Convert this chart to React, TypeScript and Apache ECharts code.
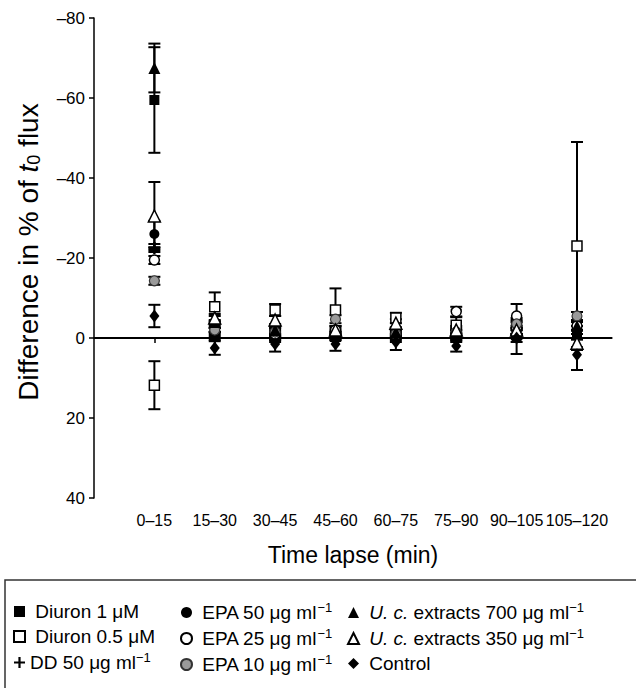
import React, { useEffect, useRef } from "react";
import * as echarts from "echarts";

const categories = ["0–15", "15–30", "30–45", "45–60", "60–75", "75–90", "90–105", "105–120"];
const yTicks = [-80, -60, -40, -20, 0, 20, 40];

const diuron1 = [-59.5, -3, -1, -1.5, -0.5, -1, 0, -1.5];
const diuron1Err = [13.2, 1.5, 1.5, 1, 1, 1, 4, 1.5];
const diuron05 = [11.8, -7.8, -7, -7, -5, -3.2, -3, -23];
const diuron05Err = [6, 3.6, 1.5, 5.4, 1.3, 2, 2, 26];
const dd50 = [-22.5, -1.5, -0.5, -1, 0, -0.5, -1, -2];
const dd50Err = [1, 1, 1, 1, 1, 1, 1, 1];
const epa50 = [-26, -1, 0, -0.5, -1, 0, -1.5, -1];
const epa50Err = [3.3, 1.5, 1, 1, 1, 1, 1, 1];
const epa25 = [-19.5, -2.5, -1, -2, -1.5, -6.6, -5.5, -3];
const epa25Err = [1, 1, 1, 1, 1, 1.2, 3, 1];
const epa10 = [-14.3, -2, -1.5, -4.7, -1, -1.5, -3.5, -5.5];
const epa10Err = [1, 1, 1, 1, 1, 1, 1, 1];
const uc700 = [-67.5, -4, -2, -0.5, -1.5, -1, -1, -3];
const uc700Err = [6.1, 1.5, 1, 1, 1, 1, 1, 1];
const uc350 = [-30.5, -5, -4.5, -2, -3.7, -2, -2, 1.3];
const uc350Err = [8.5, 1, 1, 1, 1, 1, 1, 1];
const control = [-5.5, 2.5, 1.5, 1.5, 1, 2, 0, 4.2];
const controlErr = [2.8, 1.7, 1.9, 1.7, 2, 1.4, 1, 3.8];

const PLUS = "path://M4,0H6V4H10V6H6V10H4V6H0V4H4Z";

type Def = {
  name: string;
  label: string;
  values: number[];
  errs: number[];
  symbol: string;
  size: number | number[];
  fill: string;
  border: string;
  borderWidth: number;
};

const defs: Def[] = [
  { name: "Diuron 1 μM", label: " Diuron 1 μM", values: diuron1, errs: diuron1Err, symbol: "rect", size: 10, fill: "#000", border: "#000", borderWidth: 0 },
  { name: "Diuron 0.5 μM", label: " Diuron 0.5 μM", values: diuron05, errs: diuron05Err, symbol: "rect", size: 10, fill: "#fff", border: "#000", borderWidth: 1.5 },
  { name: "DD 50 μg ml-1", label: "DD 50 μg ml{sup|−1}", values: dd50, errs: dd50Err, symbol: PLUS, size: 12, fill: "#000", border: "#000", borderWidth: 0 },
  { name: "EPA 50 μg ml-1", label: " EPA 50 μg ml{sup|−1}", values: epa50, errs: epa50Err, symbol: "circle", size: 10, fill: "#000", border: "#000", borderWidth: 0 },
  { name: "EPA 25 μg ml-1", label: " EPA 25 μg ml{sup|−1}", values: epa25, errs: epa25Err, symbol: "circle", size: 10, fill: "#fff", border: "#000", borderWidth: 1.5 },
  { name: "EPA 10 μg ml-1", label: " EPA 10 μg ml{sup|−1}", values: epa10, errs: epa10Err, symbol: "circle", size: 10, fill: "#9a9a9a", border: "#333", borderWidth: 1.2 },
  { name: "U. c. extracts 700 μg ml-1", label: " {it|U. c.} extracts 700 μg ml{sup|−1}", values: uc700, errs: uc700Err, symbol: "triangle", size: 12, fill: "#000", border: "#000", borderWidth: 0 },
  { name: "U. c. extracts 350 μg ml-1", label: " {it|U. c.} extracts 350 μg ml{sup|−1}", values: uc350, errs: uc350Err, symbol: "triangle", size: 12, fill: "#fff", border: "#000", borderWidth: 1.5 },
  { name: "Control", label: " Control", values: control, errs: controlErr, symbol: "diamond", size: [10, 13], fill: "#000", border: "#000", borderWidth: 0 },
];

const FONT = "Liberation Sans";

export default function App() {
  const ref = useRef<HTMLDivElement>(null);
  useEffect(() => {
    if (!ref.current) return;
    const chart = echarts.init(ref.current, undefined, { renderer: "svg" });

    const errSeries = defs.map((d) => ({
      type: "custom",
      name: d.name + "_err",
      z: 2,
      silent: true,
      data: d.values.map((v, i) => [i + 1, v, v - d.errs[i], v + d.errs[i]]),
      renderItem: (params: any, api: any) => {
        const x = api.value(0);
        const lo = api.coord([x, api.value(2)]);
        const hi = api.coord([x, api.value(3)]);
        const style = { stroke: "#000", lineWidth: 2 };
        const cw = 6;
        return {
          type: "group",
          children: [
            { type: "line", shape: { x1: lo[0], y1: lo[1], x2: hi[0], y2: hi[1] }, style },
            { type: "line", shape: { x1: lo[0] - cw, y1: lo[1], x2: lo[0] + cw, y2: lo[1] }, style },
            { type: "line", shape: { x1: hi[0] - cw, y1: hi[1], x2: hi[0] + cw, y2: hi[1] }, style },
          ],
        };
      },
    }));

    const pointSeries = defs.map((d) => ({
      type: "scatter",
      name: d.name,
      z: 5,
      symbol: d.symbol,
      symbolSize: d.size,
      itemStyle: { color: d.fill, borderColor: d.border, borderWidth: d.borderWidth, opacity: 1 },
      data: d.values.map((v, i) => [i + 1, v]),
    }));

    const labelMap: Record<string, string> = {};
    defs.forEach((d) => (labelMap[d.name] = d.label));

    const legendRich = {
      sup: { fontSize: 13, fontFamily: FONT, color: "#000", padding: [0, 0, 10, 0] },
      it: { fontSize: 19, fontFamily: FONT, fontStyle: "italic", color: "#000" },
    };

    const mkLegend = (names: string[], left: number) => ({
      data: names,
      orient: "vertical",
      left,
      top: 596,
      itemWidth: 11,
      itemHeight: 11,
      itemGap: 4,
      selectedMode: false,
      formatter: (n: string) => labelMap[n],
      textStyle: { fontSize: 19, fontFamily: FONT, color: "#000", lineHeight: 21, rich: legendRich },
    });

    const option: any = {
      animation: false,
      backgroundColor: "#fff",
      grid: { left: 94, right: 24, top: 18, bottom: 190, containLabel: false },
      xAxis: {
        type: "value",
        min: 0,
        max: 8.58,
        interval: 1,
        splitLine: { show: false },
        axisLine: { show: true, lineStyle: { color: "#000", width: 1.5 } },
        axisTick: { show: true, length: 5, lineStyle: { color: "#000", width: 1.5 }, customValues: [1, 2, 3, 4, 5, 6, 7, 8] },
        axisLabel: {
          customValues: [1, 2, 3, 4, 5, 6, 7, 8],
          formatter: (v: number) => (Number.isInteger(v) && v >= 1 && v <= 8 ? categories[v - 1] : ""),
          fontSize: 16,
          fontFamily: FONT,
          color: "#000",
          margin: 14,
        },
        name: "Time lapse (min)",
        nameLocation: "middle",
        nameGap: 45,
        nameTextStyle: { fontSize: 23, fontFamily: FONT, color: "#000" },
      },
      yAxis: {
        type: "value",
        inverse: true,
        min: -80,
        max: 40,
        interval: 20,
        splitLine: { show: false },
        axisLine: { show: true, lineStyle: { color: "#000", width: 1.5 } },
        axisTick: { show: true, length: 5, lineStyle: { color: "#000", width: 1.5 } },
        axisLabel: {
          formatter: (v: number) => (yTicks.includes(v) ? String(v).replace("-", "–") : ""),
          fontSize: 17,
          fontFamily: FONT,
          color: "#000",
          margin: 9,
        },
      },
      legend: [
        mkLegend([defs[0].name, defs[1].name, defs[2].name], 8),
        mkLegend([defs[3].name, defs[4].name, defs[5].name], 175),
        mkLegend([defs[6].name, defs[7].name, defs[8].name], 342),
      ],
      graphic: [
        {
          type: "rect",
          shape: { x: 5, y: 580, width: 700, height: 200 },
          style: { fill: "none", stroke: "#333", lineWidth: 1.5 },
          z: -1,
        },
        {
          type: "text",
          x: 28,
          y: 252,
          rotation: Math.PI / 2,
          style: {
            text: "Difference in % of {it|t}{sub|0} flux",
            fontSize: 28,
            fontFamily: FONT,
            fill: "#000",
            align: "center",
            verticalAlign: "middle",
            rich: {
              it: { fontSize: 28, fontFamily: FONT, fontStyle: "italic", fill: "#000" },
              sub: { fontSize: 18, fontFamily: FONT, fill: "#000", padding: [12, 0, 0, 0] },
            },
          },
        },
      ],
      series: [
        {
          type: "line",
          name: "zero",
          data: [],
          silent: true,
          z: 1,
          markLine: {
            silent: true,
            symbol: "none",
            label: { show: false },
            lineStyle: { color: "#000", width: 2, type: "solid" },
            data: [{ yAxis: 0 }],
          },
        },
        ...errSeries,
        ...pointSeries,
      ],
    };
    chart.setOption(option);
    return () => chart.dispose();
  }, []);
  return <div ref={ref} style={{ position: "absolute", left: 0, top: 0, width: 636, height: 688 }} />;
}
